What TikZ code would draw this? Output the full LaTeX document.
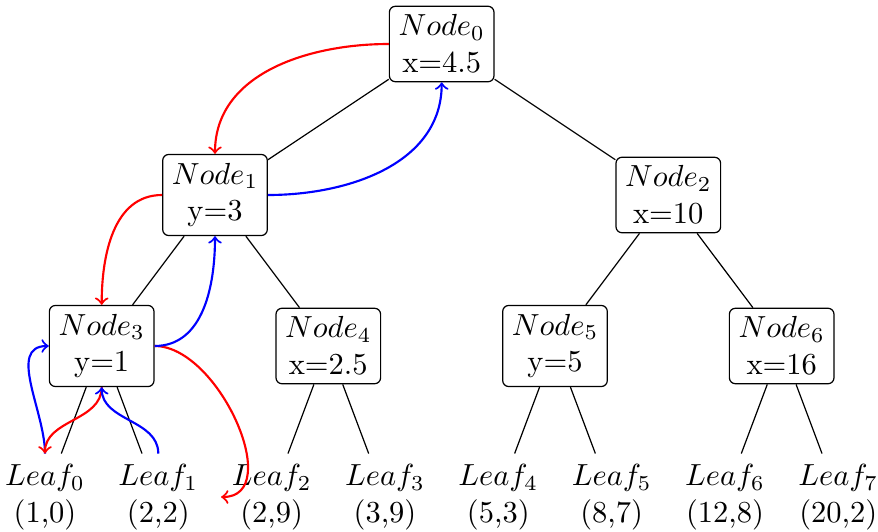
\documentclass[tikz,border=0pt]{standalone}
\begin{document}
\begin{tikzpicture}[x=0.3279pt,y=0.3279pt,
  treenode/.style={draw, rounded corners=2pt, align=center, inner xsep=3pt, inner ysep=2.8pt},
  leafnode/.style={align=center, inner sep=3.33pt},
  treeedge/.style={draw, line width=0.4pt},
  redarr/.style={->, red, line width=0.7pt},
  bluearr/.style={->, blue, line width=0.7pt}]
\useasboundingbox (0,0) rectangle (878,-532);
% internal nodes
\node[treenode] (n0) at (441.7,-44) {$Node_0$\\x=4.5};
\node[treenode] (n1) at (215,-195) {$Node_1$\\y=3};
\node[treenode] (n2) at (668.3,-195) {$Node_2$\\x=10};
\node[treenode] (n3) at (101.7,-346) {$Node_3$\\y=1};
\node[treenode] (n4) at (328.3,-346) {$Node_4$\\x=2.5};
\node[treenode] (n5) at (555,-346) {$Node_5$\\y=5};
\node[treenode] (n6) at (781.7,-346) {$Node_6$\\x=16};
% leaves
\node[leafnode] (l0) at (45,-497) {$Leaf_0$\\(1,0)};
\node[leafnode] (l1) at (158.3,-497) {$Leaf_1$\\(2,2)};
\node[leafnode] (l2) at (271.7,-497) {$Leaf_2$\\(2,9)};
\node[leafnode] (l3) at (385,-497) {$Leaf_3$\\(3,9)};
\node[leafnode] (l4) at (498.3,-497) {$Leaf_4$\\(5,3)};
\node[leafnode] (l5) at (611.7,-497) {$Leaf_5$\\(8,7)};
\node[leafnode] (l6) at (725,-497) {$Leaf_6$\\(12,8)};
\node[leafnode] (l7) at (838.3,-497) {$Leaf_7$\\(20,2)};
% tree edges
\path[treeedge] (n0) -- (n1);
\path[treeedge] (n0) -- (n2);
\path[treeedge] (n1) -- (n3);
\path[treeedge] (n1) -- (n4);
\path[treeedge] (n2) -- (n5);
\path[treeedge] (n2) -- (n6);
\path[treeedge] (n3) -- (l0);
\path[treeedge] (n3) -- (l1);
\path[treeedge] (n4) -- (l2);
\path[treeedge] (n4) -- (l3);
\path[treeedge] (n5) -- (l4);
\path[treeedge] (n5) -- (l5);
\path[treeedge] (n6) -- (l6);
\path[treeedge] (n6) -- (l7);
% traversal arrows
\draw[redarr] (n0.west) to[out=180,in=90] (n1.north);
\draw[redarr] (n1.west) to[out=180,in=90] (n3.north);
\draw[bluearr] (l0.north) to[out=90,in=180] (n3.west);
\draw[redarr] (n3.south) to[out=-90,in=90] (l0.north);
\draw[bluearr] (l1.north) to[out=90,in=-90] (n3.south);
\draw[redarr] (n3.east) to[out=0,in=0] (l2.west);
\draw[bluearr] (n3.east) to[out=0,in=-90] (n1.south);
\draw[bluearr] (n1.east) to[out=0,in=-90] (n0.south);
\end{tikzpicture}
\end{document}
